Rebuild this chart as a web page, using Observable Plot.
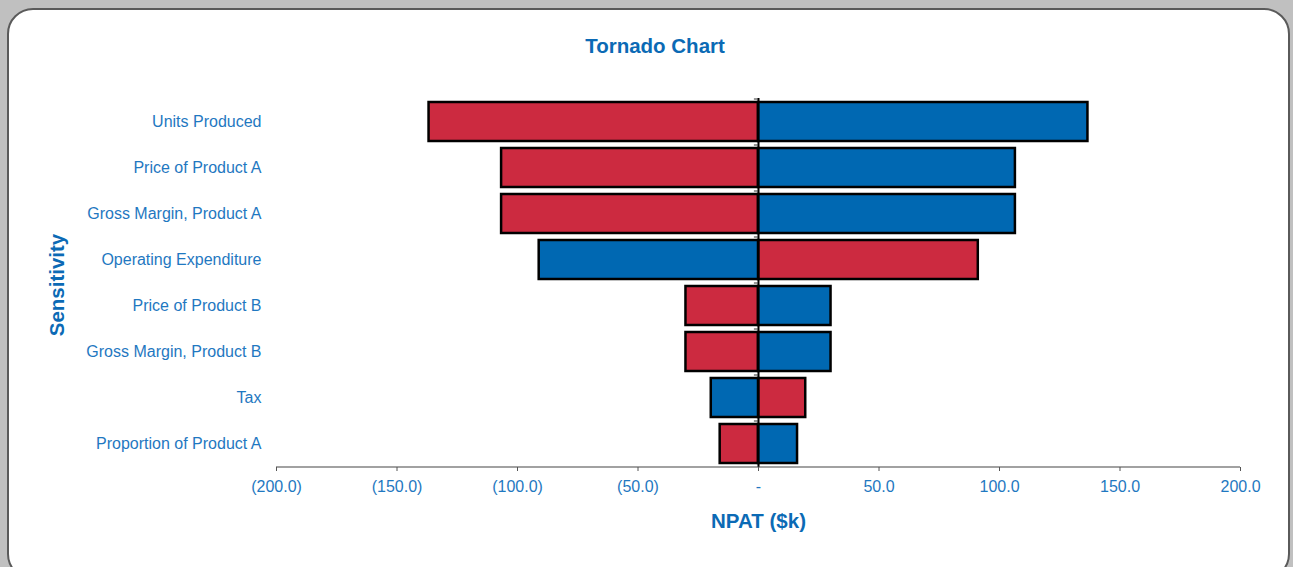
<!DOCTYPE html>
<html>
<head>
<meta charset="utf-8">
<script src="https://cdn.jsdelivr.net/npm/d3@7"></script>
<script src="https://cdn.jsdelivr.net/npm/@observablehq/plot@0.6"></script>
<style>
  html, body { margin: 0; padding: 0; background: #c0c0c0; width: 1293px; height: 567px; overflow: hidden; }
  #frame { position: absolute; left: 7px; top: 8px; width: 1283px; height: 572px; background: #fff;
           border: 2px solid #5a5a5a; border-radius: 26px; box-sizing: border-box; }
  #chart { position: absolute; left: 0; top: 0; }
  #title { position: absolute; top: 34px; left: 455px; width: 400px; text-align: center;
           font: bold 20.5px "Liberation Sans", Arial, sans-serif; color: #0b6ab5; }
</style>
</head>
<body>
<div id="frame"></div>
<div id="chart"></div>
<div id="title">Tornado Chart</div>
<script>
const categories = [
  "Units Produced",
  "Price of Product A",
  "Gross Margin, Product A",
  "Operating Expenditure",
  "Price of Product B",
  "Gross Margin, Product B",
  "Tax",
  "Proportion of Product A"
];
// NPAT change ($k) for each input, one series per colour
const redValues  = [-136.7, -106.6, -106.6,  91.2, -30.1, -30.1,  19.6, -15.9];
const blueValues = [ 136.7,  106.6,  106.6, -91.0,  30.1,  30.1, -19.6,  16.2];
const xTicks = [-200, -150, -100, -50, 0, 50, 100, 150, 200];

const redColor = "#cc2a40";
const blueColor = "#0068b2";
const labelColor = "#1f78c1";
const titleColor = "#0b6ab5";

const fmt = d => d === 0 ? "-" : d < 0 ? `(${Math.abs(d).toFixed(1)})` : d.toFixed(1);

const chart = Plot.plot({
  width: 1293,
  height: 567,
  marginLeft: 276,
  marginRight: 53,
  marginTop: 98,
  marginBottom: 100,
  style: { background: "transparent", fontFamily: "'Liberation Sans', Arial, sans-serif", fontSize: "16px" },
  x: { domain: [-200, 200], ticks: xTicks },
  y: { domain: categories, paddingInner: 0.152, paddingOuter: 0.076 },
  marks: [
    Plot.barX(redValues, { x: d => d, y: (d, i) => categories[i], fill: redColor, stroke: "#000", strokeWidth: 2.5 }),
    Plot.barX(blueValues, { x: d => d, y: (d, i) => categories[i], fill: blueColor, stroke: "#000", strokeWidth: 2.5 }),
    Plot.ruleX([0], { stroke: "#000", strokeWidth: 2 }),
    Plot.ruleY(categories, { y: d => d, x1: -1.7, x2: 0, dy: -23, stroke: "#333", strokeWidth: 1 }),
    Plot.ruleY([0], { y: () => categories[categories.length - 1], x1: -200, x2: 200, dy: 23, stroke: "#444", strokeWidth: 1.2 }),
    Plot.axisX({ ticks: xTicks, tickFormat: fmt, tickSize: 4, tickPadding: 9, stroke: "#555", color: labelColor, label: null }),
    Plot.axisY({ anchor: "left", tickSize: 0, tickPadding: 15, color: labelColor, label: null }),
    Plot.text(["NPAT ($k)"], { frameAnchor: "bottom", dy: 60, fill: titleColor, fontSize: 20.5, fontWeight: "bold" }),
    Plot.text(["Sensitivity"], { frameAnchor: "left", dx: -219, dy: 2, rotate: -90, textAnchor: "middle", fill: titleColor, fontSize: 20.5, fontWeight: "bold" })
  ]
});
document.getElementById("chart").appendChild(chart);
</script>
</body>
</html>
